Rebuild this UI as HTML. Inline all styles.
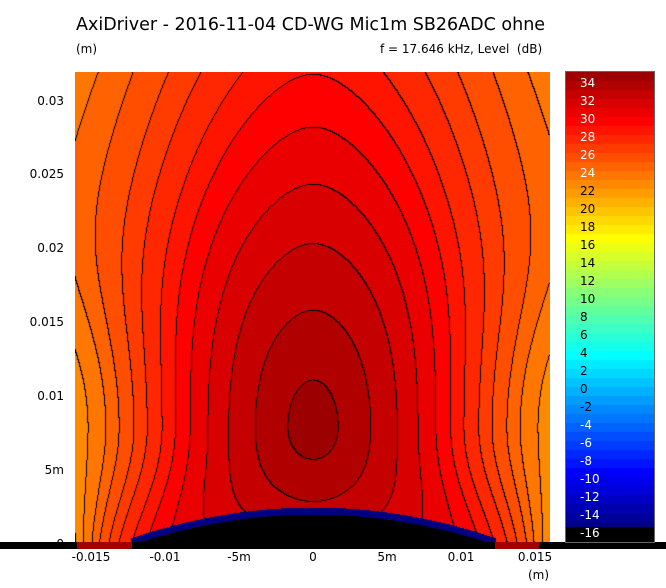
<!DOCTYPE html>
<html><head><style>
body{margin:0;width:666px;height:588px;background:#fff;font-family:"DejaVu Sans","Liberation Sans",sans-serif;position:relative;overflow:hidden}
.t{position:absolute;white-space:nowrap;font-size:12px;color:#000}
.x{position:absolute;top:550px;font-size:12px;transform:translateX(-50%);white-space:nowrap}
.y{position:absolute;right:602px;font-size:12px;white-space:nowrap}
</style></head><body>
<div class="t" style="left:76px;top:15px;font-size:17.5px">AxiDriver - 2016-11-04 CD-WG Mic1m SB26ADC ohne</div>
<div class="t" style="left:76px;top:42px">(m)</div>
<div class="t" style="left:380px;top:42px">f = 17.646 kHz, Level&nbsp; (dB)</div>
<canvas id="c" width="475" height="473" style="position:absolute;left:75px;top:72px"></canvas>
<div style="position:absolute;left:0;top:542px;width:666px;height:7px;background:#000"></div>
<div style="position:absolute;left:77px;top:542px;width:55px;height:7px;background:#a00000"></div>
<div style="position:absolute;left:495px;top:542px;width:44px;height:7px;background:#a00000"></div>
<canvas id="cb" width="88" height="470" style="position:absolute;left:566px;top:72px"></canvas>
<div style="position:absolute;left:565px;top:71px;width:88px;height:470px;border:1px solid #666"></div>
<div id="cl"></div>
<div class="t" style="left:528px;top:568px">(m)</div>
<script>
function jet(t){function c(x){return Math.max(0,Math.min(1,x))}
return [c(1.5-Math.abs(4*t-3)),c(1.5-Math.abs(4*t-2)),c(1.5-Math.abs(4*t-1))].map(x=>Math.round(x*255));}
function col(v){return jet((v+0.5+16)/52);}
var R=[0,1.7,3.9,5.7,7.1,8.3,9.3,10.2,11.2,12.1,13.1,14.0,15.2,16.3,17.5,19],V=[35,34,33,32,31,30,29,28,27,26,25,24,23,22,21,20];
function fr(r){for(var i=1;i<R.length;i++)if(r<=R[i])return V[i-1]+(V[i]-V[i-1])*(r-R[i-1])/(R[i]-R[i-1]);return 20;}
var cv=document.getElementById('c'),g=cv.getContext('2d'),W=475,H=473,img=g.createImageData(W,H),L=new Array(W*H);
for(var j=0;j<H;j++)for(var i=0;i<W;i++){var X=Math.abs((i+75-313)/14.8),Y=(545-(j+72))/14.8,dy=Y-8,Xp,Vv;
if(dy>0){var sd=13*(1-Math.exp(-dy*dy/80));Xp=X*(1-0.015*sd*(X/16)*(X/16));var k=1.75+0.034*dy;Vv=dy/k;}
else{var t=-dy/8;Xp=X+t*t*(-3.3*(X/12.4)*(X/12.4)*Math.max(0,(16-X)/3.6));Vv=-dy/1.3;}
Xp=Math.max(0,Xp);
var r=Math.pow(Math.pow(Xp,3)+Math.pow(Vv,3),1/3);
var r2=Math.sqrt(Xp*Xp+Vv*Vv);var w=Math.min(1,Xp/14);r=r2*(1-w)+r*w;
L[j*W+i]=Math.floor(fr(r));}
for(var j=0;j<H;j++)for(var i=0;i<W;i++){var p=j*W+i,v=L[p],c=col(v);
if((i<W-1&&L[p+1]!=v)||(j<H-1&&L[p+W]!=v))c=[0,0,0];
var px=i+75,py=j+72,dx=(px-313)/183,ay=545-31*(1-dx*dx);
if(Math.abs(dx)<1.0){if(py>ay)c=[0,0,0];else if(py>ay-7)c=[0,0,128];}
img.data[p*4]=c[0];img.data[p*4+1]=c[1];img.data[p*4+2]=c[2];img.data[p*4+3]=255;}
g.putImageData(img,0,0);
var cb=document.getElementById('cb').getContext('2d');
for(var v=34;v>=-16;v--){var c=col(v);cb.fillStyle='rgb('+c+')';cb.fillRect(0,(34-v)*9,88,9);}
cb.fillStyle='#000';cb.fillRect(0,455,88,15);
var s='';for(var v=34;v>=-16;v-=2){var y=84+(34-v)*9;s+='<div class="t" style="left:580px;top:'+(y-8)+'px;color:'+((v>=24||v<=-4)?'#fff':'#000')+'">'+v+'</div>';}
document.getElementById('cl').innerHTML=s;
</script>
<div class="y" style="top:94px">0.03</div>
<div class="y" style="top:167px">0.025</div>
<div class="y" style="top:241px">0.02</div>
<div class="y" style="top:315px">0.015</div>
<div class="y" style="top:389px">0.01</div>
<div class="y" style="top:463px">5m</div>
<div class="y" style="top:537px">0</div>
<div class="x" style="left:91px">-0.015</div>
<div class="x" style="left:165px">-0.01</div>
<div class="x" style="left:239px">-5m</div>
<div class="x" style="left:313px">0</div>
<div class="x" style="left:387px">5m</div>
<div class="x" style="left:461px">0.01</div>
<div class="x" style="left:535px">0.015</div>
</body></html>
